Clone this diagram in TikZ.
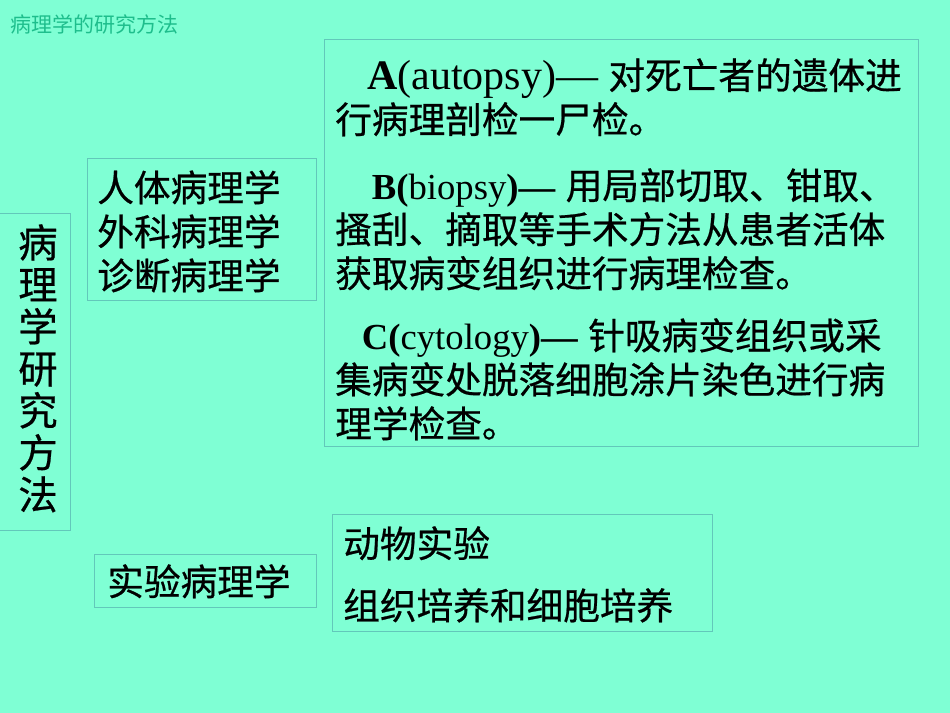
\documentclass[tikz,border=0pt]{standalone}
\usepackage{fontspec}
\setmainfont{Liberation Serif}
\newfontfamily\cjk[FakeBold=0.6]{Noto Sans CJK SC}
\newfontfamily\cjktitle{Noto Sans CJK SC}
\usetikzlibrary{positioning}
\definecolor{slidebg}{RGB}{127,255,212}
\definecolor{boxline}{RGB}{98,200,186}
\definecolor{titlecol}{RGB}{30,190,140}
\newcommand{\lat}[2]{{\rmfamily\fontsize{#1}{33}\selectfont #2}}

\begin{document}
\begin{tikzpicture}[x=0.75pt,y=-0.75pt]
	\tikzstyle{every node}+=[inner sep=0pt]
	\tikzstyle{frame}=[draw=boxline,line width=0.6pt]
	\tikzstyle{body}=[anchor=north west,align=left,font=\cjk\fontsize{27.5}{33}\selectfont]
	\fill [slidebg] (0,0) rectangle (950,713);
	\useasboundingbox (0,0) rectangle (950,713);
	\node [anchor=west,text=titlecol,font=\cjktitle\fontsize{15.75}{18}\selectfont] (title) at (10,24) {病理学的研究方法};
	% frames
	\draw [frame] (-1,213) rectangle (70,530);
	\draw [frame] (87,158) rectangle (316,300);
	\draw [frame] (324,39) rectangle (918,446);
	\draw [frame] (94,554) rectangle (316,607);
	\draw [frame] (332,514) rectangle (712,631);
	% left column
	\node [anchor=north,align=center,font=\cjk\fontsize{29.5}{31.5}\selectfont] (method) at (38,224) {病\\理\\学\\研\\究\\方\\法};
	\node [body] (human) at (97,170) {人体病理学\\外科病理学\\诊断病理学};
	\node [body] (experiment) at (107,564) {实验病理学};
	% samples
	\node [body] (autopsy) at (335,58) {\hspace{24pt}\lat{31.5}{\textbf{A}(autopsy)—}\hspace{1.5pt} 对死亡者的遗体进\\行病理剖检一尸检。};
	\node [body] (biopsy) at (335,168) {\hspace{27.5pt}\lat{27.5}{\textbf{B(}biopsy\textbf{)—}}\hspace{1.5pt} 用局部切取、钳取、\\搔刮、摘取等手术方法从患者活体\\获取病变组织进行病理检查。};
	\node [body] (cytology) at (335,318) {\hspace{20pt}\lat{27.5}{\textbf{C(}cytology\textbf{)—}}\hspace{1.5pt} 针吸病变组织或采\\集病变处脱落细胞涂片染色进行病\\理学检查。};
	% animal work
	\node [body] (animal) at (343,526) {动物实验};
	\node [body] (culture) at (343,588) {组织培养和细胞培养};
\end{tikzpicture}
\end{document}
